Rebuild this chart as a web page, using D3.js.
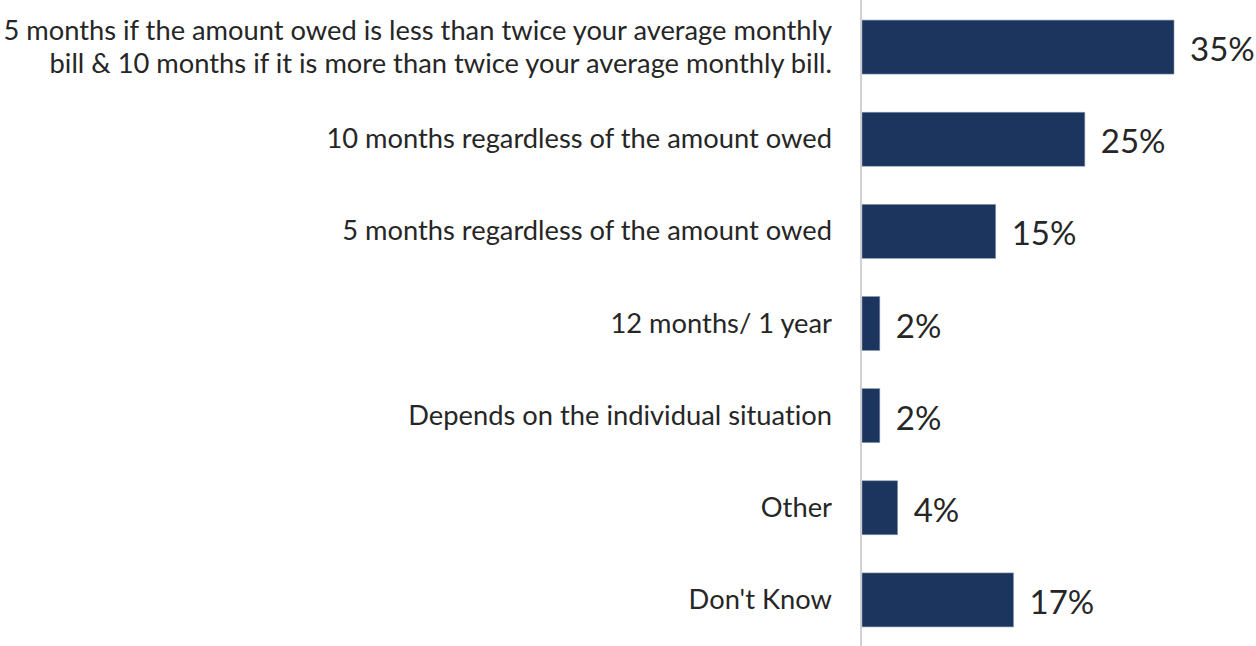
<!DOCTYPE html>
<html><head><meta charset="utf-8">
<script src="https://cdn.jsdelivr.net/npm/d3@7"></script>
<style>body{margin:0;background:#fff}svg{display:block}text{font-variant-ligatures:none;font-feature-settings:"liga" 0}</style>
</head><body>
<svg id="c" width="1256" height="646"></svg>
<script>
const categories = [
  ["5 months if the amount owed is less than twice your average monthly", "bill & 10 months if it is more than twice your average monthly bill."],
  ["10 months regardless of the amount owed"],
  ["5 months regardless of the amount owed"],
  ["12 months/ 1 year"],
  ["Depends on the individual situation"],
  ["Other"],
  ["Don't Know"]
];
const values = [35, 25, 15, 2, 2, 4, 17];
const valueLabels = ["35%", "25%", "15%", "2%", "2%", "4%", "17%"];

const W = 1256, H = 646;
const svg = d3.select("#c");
const font = "Lato, 'Open Sans', sans-serif";
const x = d3.scaleLinear().domain([0, 35]).range([862, 1174]);
const y = d3.scaleBand().domain(d3.range(values.length)).range([1, 646]).paddingInner(0.414).paddingOuter(0.207);

svg.selectAll("rect.bar").data(values).join("rect")
  .attr("class","bar")
  .attr("x", x(0)).attr("y", (d,i)=>y(i))
  .attr("width", d=>x(d)-x(0)).attr("height", y.bandwidth())
  .attr("fill", "#1c355e").attr("stroke","#8a9ab3").attr("stroke-width",0.6);

svg.append("line").attr("x1",861).attr("x2",861).attr("y1",0).attr("y2",H)
  .attr("stroke","#c6c6c6").attr("stroke-width",1.6);

const g = svg.selectAll("text.cat").data(categories).join("text")
  .attr("class","cat")
  .attr("text-anchor","end")
  .attr("font-family",font).attr("font-size",27.3).attr("fill","#262626");
g.each(function(lines,i){
  const t = d3.select(this);
  const cy = y(i)+y.bandwidth()/2;
  const n = lines.length, lh = 33;
  lines.forEach((l,k)=>{
    t.append("tspan").attr("x",832).attr("y", cy + (k-(n-1)/2)*lh - 0.5).attr("dy","0.35em").text(l);
  });
});

svg.selectAll("text.val").data(values).join("text")
  .attr("class","val")
  .attr("x", d=>x(d)+16).attr("y",(d,i)=>y(i)+y.bandwidth()/2+2.5).attr("dy","0.35em")
  .attr("font-family",font).attr("font-size",33).attr("fill","#262626")
  .text((d,i)=>valueLabels[i]);
</script>
</body></html>
